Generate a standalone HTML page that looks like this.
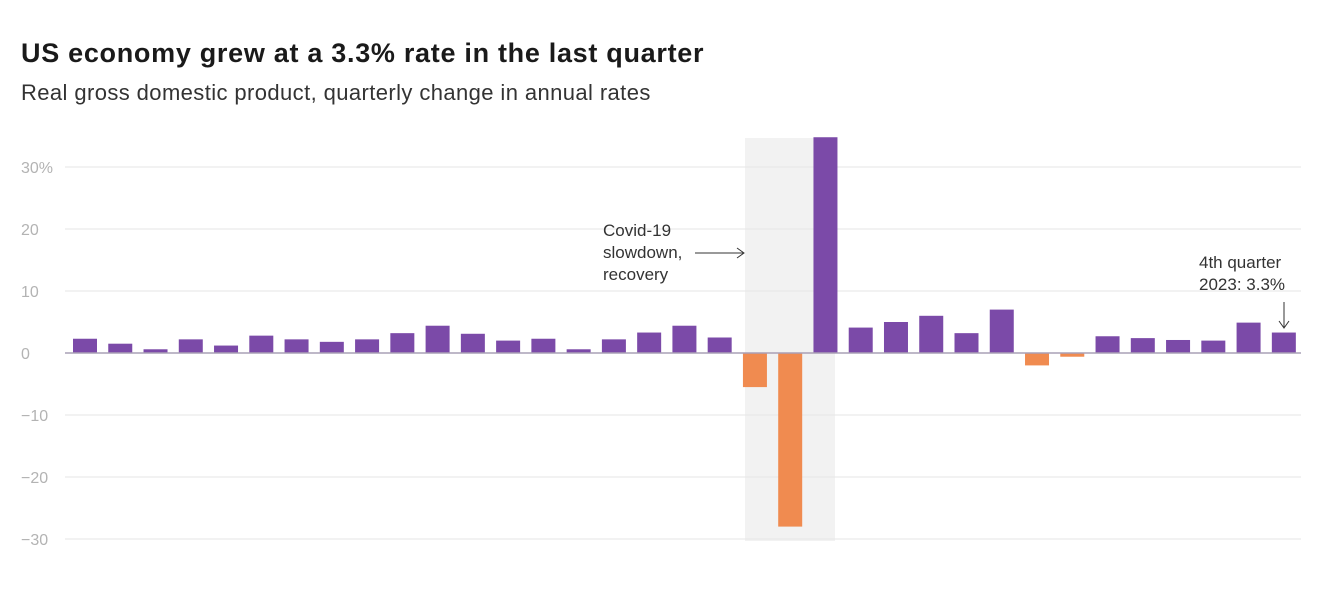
<!DOCTYPE html>
<html><head><meta charset="utf-8"><style>
body{margin:0;background:#fff;font-family:"Liberation Sans",sans-serif;}
#wrap{position:relative;width:1321px;height:598px;overflow:hidden}
h1{position:absolute;left:21px;top:38px;margin:0;font-size:27px;letter-spacing:0.7px;font-weight:bold;color:#1a1a1a;white-space:nowrap}
h2{position:absolute;left:21px;top:80px;margin:0;font-size:22px;letter-spacing:0.4px;font-weight:normal;color:#333;white-space:nowrap}
</style></head><body>
<div id="wrap">
<h1>US economy grew at a 3.3% rate in the last quarter</h1>
<h2>Real gross domestic product, quarterly change in annual rates</h2>
<svg id="chart" width="1321" height="598" style="position:absolute;left:0;top:0"></svg>
</div>
<script>
const values=[2.3,1.5,0.6,2.2,1.2,2.8,2.2,1.8,2.2,3.2,4.4,3.1,2.0,2.3,0.6,2.2,3.3,4.4,2.5,-5.5,-28.0,34.8,4.1,5.0,6.0,3.2,7.0,-2.0,-0.6,2.7,2.4,2.1,2.0,4.9,3.3];
const ticks=[30,20,10,0,-10,-20,-30];
const tickLabels=["30%","20","10","0","−10","−20","−30"];
const ns="http://www.w3.org/2000/svg";
const svg=document.getElementById('chart');
const y=v=>353-v*6.2;
const x=i=>73+i*35.26;
function mk(t,a){const e=document.createElementNS(ns,t);for(const k in a)e.setAttribute(k,a[k]);svg.appendChild(e);return e;}
const band=mk('rect',{x:745,y:138,width:90,height:403,fill:'#f2f2f2'});


ticks.forEach((t,i)=>{
 if(t!==0){const g=mk('line',{x1:65,x2:1301,y1:y(t),y2:y(t),stroke:'#e6e6e6','stroke-width':1});
 
 }
 const l=mk('text',{x:21,y:y(t)+6,'font-size':16,fill:'#b3b3b3'});l.textContent=tickLabels[i];
 
 
});
values.forEach((v,i)=>{
 const r=mk('rect',{x:x(i),y:Math.min(y(v),y(0)),width:24,height:Math.abs(y(v)-y(0)),fill:v>=0?'#7b4aa8':'#f08b50'});
 
 
});
const z=mk('line',{x1:65,x2:1301,y1:y(0),y2:y(0),stroke:'#a9a0b5','stroke-width':1.5});


function txt(lines,xx,yy,name){lines.forEach((s,i)=>{const t=mk('text',{x:xx,y:yy+i*22,'font-size':17,fill:'#333'});t.textContent=s;

});}
txt(["Covid-19","slowdown,","recovery"],603,236,'covid-annotation');
mk('line',{x1:695,x2:743,y1:253,y2:253,stroke:'#333','stroke-width':1});
mk('path',{d:'M737,248 L744,253 L737,258',fill:'none',stroke:'#333'});
txt(["4th quarter","2023: 3.3%"],1199,268,'last-quarter-annotation');
mk('line',{x1:1284,x2:1284,y1:302,y2:327,stroke:'#333','stroke-width':1});
mk('path',{d:'M1279,321 L1284,328 L1289,321',fill:'none',stroke:'#333'});
</script>
</body></html>
